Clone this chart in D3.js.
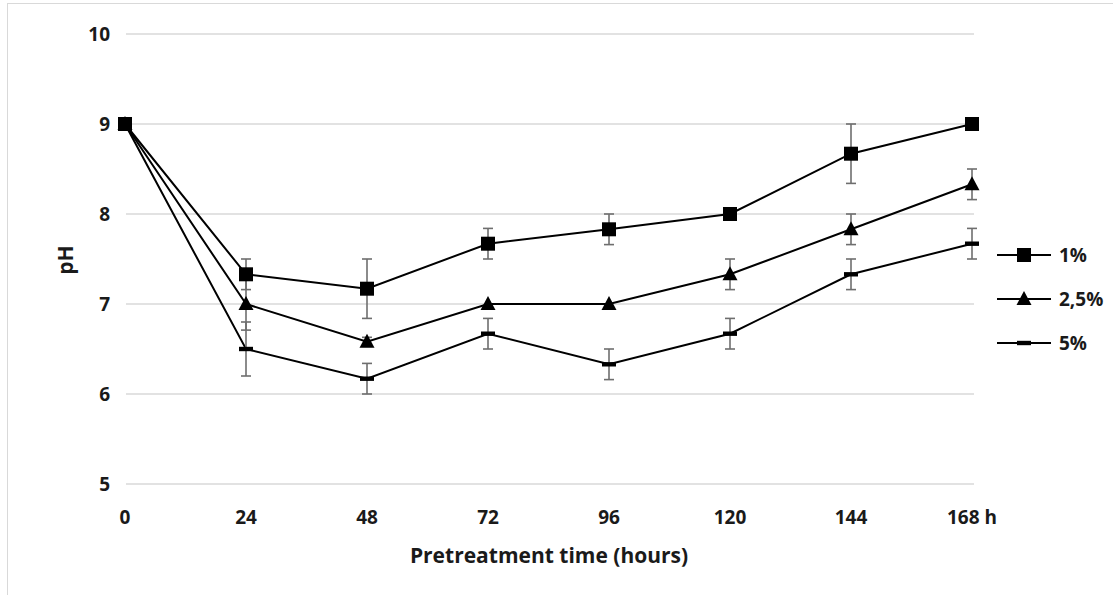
<!DOCTYPE html>
<html>
<head>
<meta charset="utf-8">
<script src="https://cdn.jsdelivr.net/npm/d3@7"></script>
<style>
  body { margin: 0; background: #fff; }
  text { font-family: "Open Sans", "Noto Sans", sans-serif; font-weight: bold; fill: #1a1a1a; }
</style>
</head>
<body>
<div id="chart"></div>
<script>
// categories (hours) and pH values
var hours = ["0", "24", "48", "72", "96", "120", "144", "168 h"];
var ph1  = [9, 7.33, 7.17, 7.67, 7.83, 8.0, 8.67, 9.0];
var err1 = [0, 0.17, 0.33, 0.17, 0.17, 0, 0.33, 0];
var ph25  = [9, 7.0, 6.58, 7.0, 7.0, 7.33, 7.83, 8.33];
var err25 = [0, 0.29, 0.05, 0, 0, 0.17, 0.17, 0.17];
var ph5  = [9, 6.5, 6.17, 6.67, 6.33, 6.67, 7.33, 7.67];
var err5 = [0, 0.3, 0.17, 0.17, 0.17, 0.17, 0.17, 0.17];
var yTicks = [5, 6, 7, 8, 9, 10];
var seriesNames = ["1%", "2,5%", "5%"];

var width = 1113, height = 595;

var svg = d3.select("#chart").append("svg")
    .attr("width", width)
    .attr("height", height);

// outer chart border
svg.append("rect")
    .attr("x", 7.5).attr("y", 3.5)
    .attr("width", width).attr("height", height)
    .attr("fill", "none")
    .attr("stroke", "#d9d9d9");

var x = d3.scalePoint().domain(hours).range([125, 972]);
var y = d3.scaleLinear().domain([5, 10]).range([484, 34]);

// gridlines
svg.selectAll(".grid")
    .data(yTicks)
    .enter().append("line")
    .attr("x1", 126).attr("x2", 974)
    .attr("y1", function(d) { return y(d); })
    .attr("y2", function(d) { return y(d); })
    .attr("stroke", "#d9d9d9")
    .attr("stroke-width", 1.5);

// y tick labels
svg.selectAll(".ylab")
    .data(yTicks)
    .enter().append("text")
    .attr("x", 110)
    .attr("y", function(d) { return y(d); })
    .attr("dy", "0.35em")
    .attr("text-anchor", "end")
    .style("font-size", "19px")
    .text(function(d) { return d; });

// x tick labels
svg.selectAll(".xlab")
    .data(hours)
    .enter().append("text")
    .attr("x", function(d) { return x(d); })
    .attr("y", 517)
    .attr("dy", "0.35em")
    .attr("text-anchor", "middle")
    .style("font-size", "19px")
    .text(function(d) { return d; });

svg.append("text")
    .attr("x", 549).attr("y", 556)
    .attr("dy", "0.35em")
    .attr("text-anchor", "middle")
    .style("font-size", "21px")
    .text("Pretreatment time (hours)");

svg.append("text")
    .attr("transform", "translate(66,260) rotate(-90)")
    .attr("dy", "0.35em")
    .attr("text-anchor", "middle")
    .style("font-size", "21px")
    .text("pH");

// marker shapes
function markerPath(kind) {
    if (kind == "square") return "M-7,-7H7V7H-7Z";
    if (kind == "triangle") return "M0,-8L7.5,6L-7.5,6Z";
    return "M-7,-2.2H7V2.2H-7Z";
}

var series = [
    {name: seriesNames[2], values: ph5, err: err5, marker: "dash"},
    {name: seriesNames[1], values: ph25, err: err25, marker: "triangle"},
    {name: seriesNames[0], values: ph1, err: err1, marker: "square"}
];

var line = d3.line()
    .x(function(d) { return x(d.h); })
    .y(function(d) { return y(d.v); });

series.forEach(function(s) {
    var pts = hours.map(function(h, i) { return {h: h, v: s.values[i], e: s.err[i]}; });

    svg.append("path")
        .datum(pts)
        .attr("d", line)
        .attr("fill", "none")
        .attr("stroke", "#000")
        .attr("stroke-width", 2);

    // error bars
    var eb = svg.append("g").attr("stroke", "#6e6e6e").attr("stroke-width", 1.6);
    pts.filter(function(d) { return d.e > 0; }).forEach(function(d) {
        var cx = x(d.h);
        eb.append("line")
            .attr("x1", cx).attr("x2", cx)
            .attr("y1", y(d.v - d.e)).attr("y2", y(d.v + d.e));
        [d.v - d.e, d.v + d.e].forEach(function(v) {
            eb.append("line")
                .attr("x1", cx - 5).attr("x2", cx + 5)
                .attr("y1", y(v)).attr("y2", y(v));
        });
    });

    svg.selectAll(null)
        .data(pts)
        .enter().append("path")
        .attr("d", markerPath(s.marker))
        .attr("transform", function(d) { return "translate(" + x(d.h) + "," + y(d.v) + ")"; })
        .attr("fill", "#000");
});

// legend
var legend = svg.append("g").attr("transform", "translate(997,255)");
[series[2], series[1], series[0]].forEach(function(s, i) {
    var g = legend.append("g").attr("transform", "translate(0," + (i * 44) + ")");
    g.append("line")
        .attr("x1", 0).attr("x2", 54)
        .attr("stroke", "#000").attr("stroke-width", 2);
    g.append("path")
        .attr("d", markerPath(s.marker))
        .attr("transform", "translate(27,0)")
        .attr("fill", "#000");
    g.append("text")
        .attr("x", 62)
        .attr("dy", "0.35em")
        .style("font-size", "19px")
        .text(s.name);
});
</script>
</body>
</html>
